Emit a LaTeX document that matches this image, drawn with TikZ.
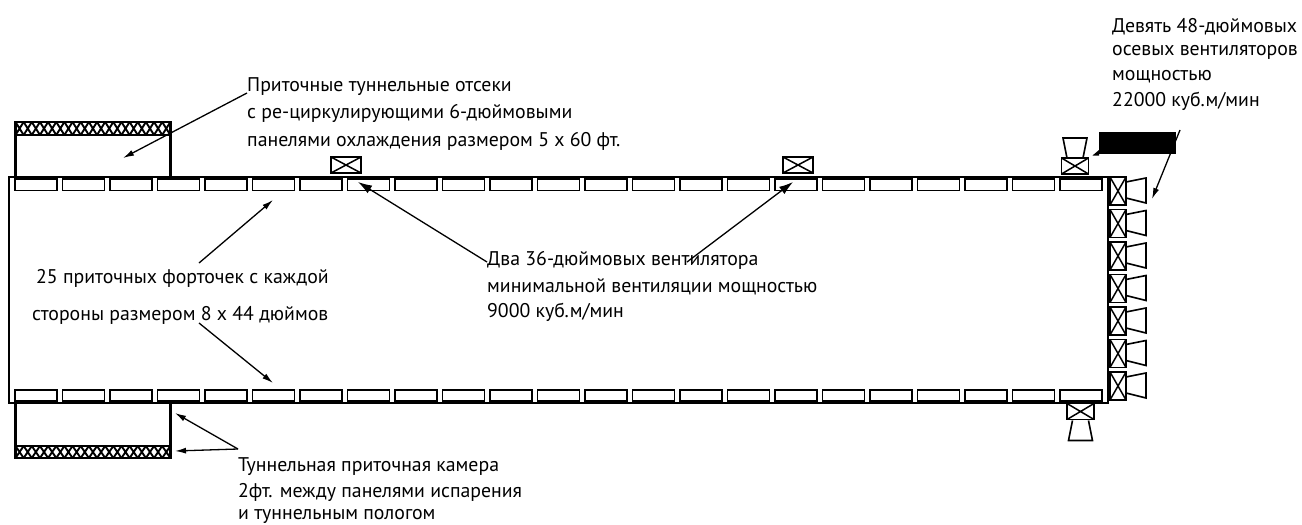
\documentclass[tikz,border=0pt]{standalone}
\usepackage{fontspec}
\setmainfont{PT Sans}
\usetikzlibrary{positioning, arrows.meta}

\begin{document}
\begin{tikzpicture}[x=1pt,y=-1pt,
	box/.style={draw,line width=1.8pt,inner sep=0,outer sep=0,minimum width=#1},
	vent/.style={box=42pt,minimum height=11.5pt},
	fanh/.style={box=30pt,minimum height=16pt,xfan},
	fanv/.style={box=16pt,minimum height=28pt,xfan},
	xfan/.style={path picture={\draw[line width=1.5pt] (path picture bounding box.north west) -- (path picture bounding box.south east)
		(path picture bounding box.north east) -- (path picture bounding box.south west);}},
	cone/.style={draw,line width=1.6pt,line join=miter},
	lbl/.style={anchor=west,inner sep=0,yshift=-2.5pt,font=\fontsize{19.8}{22}\selectfont},
	arr/.style={line width=1.3pt,-{Latex[length=11pt,width=6pt]}},
	arrb/.style={line width=1.3pt,-{Latex[length=14pt,width=9pt]}}]
	\useasboundingbox (0,0) rectangle (1302,525);
	% house
	\node[box=1099pt,minimum height=226pt,line width=2.2pt] (house) at (558.5,290) {};
	\foreach \X in {0,...,22}
	{\node[vent] (vt\X) at (36+\X*47.5,184.7) {};
		\node[vent] (vb\X) at (36+\X*47.5,395.5) {};}
	% tunnel chambers
	\node[box=155pt,minimum height=55pt,line width=2.6pt] (chT) at (93,149.5) {};
	\node[box=155pt,minimum height=55pt,line width=2.6pt] (chB) at (93,430.5) {};
	\node[box=155pt,minimum height=13pt,line width=2.6pt] (padT) at (93,128.5) {};
	\node[box=155pt,minimum height=12pt,line width=2.6pt] (padB) at (93,452) {};
	\foreach \X in {0,...,18}
	{\draw[line width=1.9pt] (padT.north west) ++ (\X*8.15,0) -- ++ (8.15,13) ++ (-8.15,0) -- ++ (8.15,-13);
		\draw[line width=1.9pt] (padB.north west) ++ (\X*8.15,0) -- ++ (8.15,12) ++ (-8.15,0) -- ++ (8.15,-12);}
	% minimum ventilation and end fans
	\node[fanh] (fanA) at (346,165) {};
	\node[fanh] (fanB) at (798,165) {};
	\node[fanh,minimum width=27pt] (fanC) at (1075,166) {};
	\node[fanh,minimum width=27pt] (fanD) at (1080.5,411.5) {};
	\draw[cone] (fanC.north) ++ (-8,0) -- ++ (-4,-20) -- ++ (24,0) -- ++ (-4,20);
	\draw[cone] (fanD.south) ++ (-8,1) -- ++ (-4,20) -- ++ (24,0) -- ++ (-4,-20);
	\foreach \X in {0,...,6}
	{\node[fanv] (fan\X) at (1118,191+\X*32.5) {};
		\draw[cone] (fan\X.east) ++ (0,-9) -- ++ (20,-4) -- ++ (0,25) -- ++ (-20,-5);}
	\fill (1099,132) rectangle (1176,154);
	\fill (1092.5,155.5) -- (1099,150) -- (1099,155.5) -- cycle;
	% labels
	\node[lbl] (inT1) at (247,84) {Приточные туннельные отсеки};
	\node[lbl] (inT2) at (247,111) {с ре-циркулирующими 6-дюймовыми};
	\node[lbl] (inT3) at (247,139) {панелями охлаждения размером 5 х 60 фт.};
	\node[lbl] (nine1) at (1112,24) {Девять 48-дюймовых};
	\node[lbl] (nine2) at (1112,50) {осевых вентиляторов};
	\node[lbl] (nine3) at (1112,74) {мощностью};
	\node[lbl] (nine4) at (1112,99) {22000 куб.м/мин};
	\node[lbl] (two1) at (487,258) {Два 36-дюймовых вентилятора};
	\node[lbl] (two2) at (487,284) {минимальной вентиляции мощностью};
	\node[lbl] (two3) at (487,310) {9000 куб.м/мин};
	\node[lbl] (sh1) at (36,276) {25 приточных форточек с каждой};
	\node[lbl] (sh2) at (32,313) {стороны размером 8 х 44 дюймов};
	\node[lbl] (cam1) at (238,464) {Туннельная приточная камера};
	\node[lbl] (cam2) at (238,490) {2фт. между панелями испарения};
	\node[lbl] (cam3) at (238,513.5) {и туннельным пологом};
	% arrows
	\coordinate (aIn) at (247,93);
	\coordinate (aSh) at (199,263);
	\coordinate (aSb) at (199,323);
	\coordinate (aTwoL) at (487,262);
	\coordinate (aTwoR) at (687,262);
	\coordinate (aCam) at (238,449);
	\coordinate (aNine) at (1180,130);
	\draw[arr] (aIn) -- (123,158) coordinate (tIn);
	\draw[arr] (aSh) -- (273,200) coordinate (tSh);
	\draw[arr] (aSb) -- (273,383) coordinate (tSb);
	\draw[arrb] (aTwoL) -- (358,182) coordinate (tA);
	\draw[arrb] (aTwoR) -- (793,182) coordinate (tB);
	\draw[arr] (aCam) -- (175,413) coordinate (tCh);
	\draw[arr] (aCam) -- (175,451) coordinate (tPad);
	\draw[arr] (aNine) -- (1152,199) coordinate (tFan);
\end{tikzpicture}
\end{document}
